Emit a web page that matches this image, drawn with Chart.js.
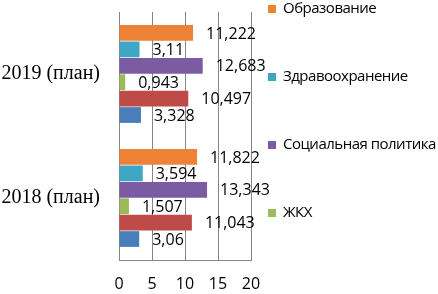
<!DOCTYPE html>
<html>
<head>
<meta charset="utf-8">
<script src="https://cdn.jsdelivr.net/npm/chart.js@4"></script>
<style>
html,body{margin:0;padding:0;background:#fff;}
canvas{display:block;}
</style>
</head>
<body>
<canvas id="c" width="438" height="294"></canvas>
<script>
const categories = ['2019 (план)', '2018 (план)'];
const seriesNames = ['Образование', 'Здравоохранение', 'Социальная политика', 'ЖКХ', 'Национальная экономика', 'Общегосударственные вопросы'];
const obrazovanie = [11.222, 11.822];
const zdravoohranenie = [3.11, 3.594];
const socPolitika = [12.683, 13.343];
const zhkh = [0.943, 1.507];
const nacEkonomika = [10.497, 11.043];
const obshchegos = [3.328, 3.06];
const xTicks = [0, 5, 10, 15, 20];
const legendShown = 4;

const colors = ['#EE8237', '#3FA6C6', '#7B5CA3', '#9BBB59', '#BE4B48', '#4A7EBB'];
const seriesValues = [obrazovanie, zdravoohranenie, socPolitika, zhkh, nacEkonomika, obshchegos];

Chart.defaults.font.family = "'Open Sans', sans-serif";

const dataLabels = {
  id: 'dataLabels',
  afterDatasetsDraw(chart) {
    const ctx = chart.ctx;
    ctx.save();
    ctx.font = "16px 'Open Sans'";
    ctx.fillStyle = '#000';
    ctx.textAlign = 'left';
    ctx.textBaseline = 'middle';
    chart.data.datasets.forEach((ds, i) => {
      const meta = chart.getDatasetMeta(i);
      meta.data.forEach((el, j) => {
        const txt = String(ds.data[j]).replace('.', ',');
        ctx.fillText(txt, el.x + 13, el.y + 1);
      });
    });
    ctx.restore();
  }
};

const customLegend = {
  id: 'customLegend',
  afterDraw(chart) {
    const ctx = chart.ctx;
    ctx.save();
    ctx.font = "15px 'Open Sans'";
    ctx.letterSpacing = '-0.5px';
    ctx.textAlign = 'left';
    ctx.textBaseline = 'middle';
    for (let i = 0; i < legendShown; i++) {
      const y = 9 + i * 68;
      ctx.fillStyle = colors[i];
      ctx.fillRect(268, y - 4, 8, 8);
      ctx.fillStyle = '#000';
      ctx.fillText(chart.data.datasets[i].label, 283, y);
    }
    ctx.restore();
  }
};

new Chart(document.getElementById('c'), {
  type: 'bar',
  data: {
    labels: categories,
    datasets: seriesValues.map((v, i) => ({
      label: seriesNames[i],
      data: v,
      backgroundColor: colors[i],
      borderWidth: 0,
      barPercentage: 0.96,
      categoryPercentage: 0.794
    }))
  },
  options: {
    indexAxis: 'y',
    responsive: false,
    animation: false,
    devicePixelRatio: 1,
    layout: { padding: { top: 12, right: 187, left: 0, bottom: 0 } },
    plugins: { legend: { display: false }, tooltip: { enabled: false } },
    scales: {
      x: {
        min: 0, max: 20,
        afterBuildTicks: s => { s.ticks = xTicks.map(v => ({ value: v })); },
        ticks: { color: '#000', font: { size: 16 }, padding: 15, maxRotation: 0 },
        grid: { color: '#868686', drawTicks: false },
        border: { color: '#868686' },
        afterFit: s => { s.height = 34; s.paddingLeft = 0; s.paddingRight = 0; }
      },
      y: {
        grid: { display: false, drawTicks: false },
        border: { display: true, color: '#868686' },
        ticks: { color: '#000', font: { family: "'Liberation Serif'", size: 20 }, padding: 19 },
        afterFit: s => { s.width = 119; s.paddingTop = 0; s.paddingBottom = 0; }
      }
    }
  },
  plugins: [dataLabels, customLegend]
});
</script>
</body>
</html>
